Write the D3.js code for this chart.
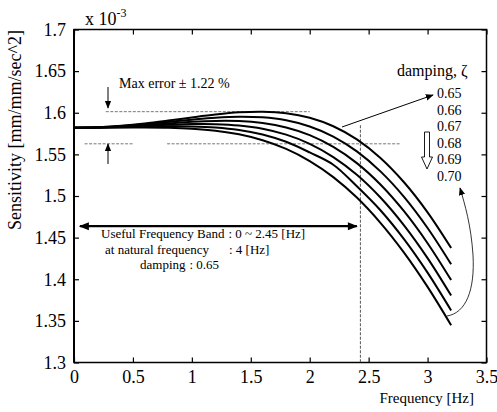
<!DOCTYPE html>
<html>
<head>
<meta charset="utf-8">
<script src="https://cdn.jsdelivr.net/npm/d3@7"></script>
<style>
  body { margin: 0; background: #fff; }
  svg text { font-family: "Liberation Serif", "Times New Roman", Times, serif !important; fill: #000; }
</style>
</head>
<body>
<div id="chart"></div>
<script>
// frequency points [Hz]
const freq = [0, 0.2, 0.4, 0.6, 0.8, 1.0, 1.2, 1.4, 1.6, 1.8, 2.0, 2.2, 2.4, 2.6, 2.8, 3.0, 3.2];

// sensitivity x 10^-3, one array per damping ratio
const sens065 = [1.5820, 1.5826, 1.5844, 1.5871, 1.5906, 1.5944, 1.5979, 1.6005, 1.6013, 1.5995, 1.5940, 1.5838, 1.5680, 1.5457, 1.5165, 1.4804, 1.4375];
const sens066 = [1.5820, 1.5825, 1.5840, 1.5862, 1.5889, 1.5917, 1.5941, 1.5953, 1.5945, 1.5909, 1.5835, 1.5714, 1.5536, 1.5296, 1.4990, 1.4616, 1.4180];
const sens067 = [1.5820, 1.5824, 1.5835, 1.5852, 1.5872, 1.5891, 1.5902, 1.5900, 1.5876, 1.5823, 1.5731, 1.5590, 1.5395, 1.5138, 1.4817, 1.4433, 1.3990];
const sens068 = [1.5820, 1.5823, 1.5831, 1.5843, 1.5855, 1.5864, 1.5863, 1.5847, 1.5808, 1.5737, 1.5627, 1.5468, 1.5255, 1.4982, 1.4648, 1.4254, 1.3804];
const sens069 = [1.5820, 1.5822, 1.5827, 1.5833, 1.5838, 1.5836, 1.5824, 1.5794, 1.5739, 1.5651, 1.5523, 1.5376, 1.5117, 1.4829, 1.4482, 1.4079, 1.3624];
const sens070 = [1.5820, 1.5821, 1.5822, 1.5823, 1.5820, 1.5809, 1.5785, 1.5741, 1.5670, 1.5566, 1.5420, 1.5227, 1.4981, 1.4678, 1.4320, 1.3908, 1.3447];

const dampingLabels = ["0.65", "0.66", "0.67", "0.68", "0.69", "0.70"];
const xTicks = [0, 0.5, 1, 1.5, 2, 2.5, 3, 3.5];
const yTicks = [1.3, 1.35, 1.4, 1.45, 1.5, 1.55, 1.6, 1.65, 1.7];

// reference values of the annotations
const baseSens = 1.582;
const maxError = 1.22;   // %
const bandLimit = 2.43;  // Hz, dashed vertical

const series = [sens065, sens066, sens067, sens068, sens069, sens070];

const W = 497, H = 412;
const svg = d3.select("#chart").append("svg")
  .attr("width", W).attr("height", H)
  .attr("font-family", "Liberation Serif, Times New Roman, serif");

const x = d3.scaleLinear().domain([0, 3.5]).range([74, 486.5]);
const y = d3.scaleLinear().domain([1.3, 1.7]).range([362.5, 29.5]);

// boite + ticks vers l'interieur
svg.append("rect")
  .attr("x", x(0)).attr("y", y(1.7))
  .attr("width", x(3.5) - x(0)).attr("height", y(1.3) - y(1.7))
  .attr("fill", "none").attr("stroke", "#000").attr("stroke-width", 1.5);

const fmt = d => String(d);

svg.append("g")
  .attr("transform", `translate(0,${y(1.3)})`)
  .call(d3.axisBottom(x).tickValues(xTicks).tickFormat(fmt).tickSize(-5).tickPadding(8));
svg.append("g")
  .attr("transform", `translate(0,${y(1.7)})`)
  .call(d3.axisTop(x).tickValues(xTicks).tickFormat("").tickSize(-5));
svg.append("g")
  .attr("transform", `translate(${x(0)},0)`)
  .call(d3.axisLeft(y).tickValues(yTicks).tickFormat(fmt).tickSize(-5).tickPadding(8));
svg.append("g")
  .attr("transform", `translate(${x(3.5)},0)`)
  .call(d3.axisRight(y).tickValues(yTicks).tickFormat("").tickSize(-5));

svg.selectAll(".domain").remove();
svg.selectAll("g").attr("font-family", null);
svg.selectAll(".tick line").attr("stroke", "#000").attr("stroke-width", 1.2);
svg.selectAll(".tick text")
  .style("font-size", "18px")
  .attr("fill", "#000");

// axe gauche plus epais
svg.append("line")
  .attr("x1", x(0)).attr("x2", x(0)).attr("y1", y(1.7)).attr("y2", y(1.3))
  .attr("stroke", "#000").attr("stroke-width", 2);

// x 10^-3
const expo = svg.append("text").attr("x", 85).attr("y", 25).style("font-size", "18px");
expo.append("tspan").text("x 10");
expo.append("tspan").attr("dy", -8).style("font-size", "12px").text("-3");

svg.append("text")
  .attr("transform", "translate(21,130) rotate(-90)")
  .attr("text-anchor", "middle")
  .style("font-size", "18px")
  .text("Sensitivity [mm/mm/sec^2]");

svg.append("text")
  .attr("x", 474).attr("y", 403)
  .attr("text-anchor", "end")
  .style("font-size", "15px")
  .text("Frequency [Hz]");

// markers
const defs = svg.append("defs");
defs.append("marker")
  .attr("id", "head").attr("viewBox", "0 0 10 10")
  .attr("refX", 9).attr("refY", 5)
  .attr("markerWidth", 8).attr("markerHeight", 8)
  .attr("markerUnits", "userSpaceOnUse")
  .attr("orient", "auto")
  .append("path").attr("d", "M0,1 L10,5 L0,9 Z").attr("fill", "#000");
defs.append("marker")
  .attr("id", "headBig").attr("viewBox", "0 0 10 10")
  .attr("refX", 9).attr("refY", 5)
  .attr("markerWidth", 12).attr("markerHeight", 10)
  .attr("markerUnits", "userSpaceOnUse")
  .attr("orient", "auto-start-reverse")
  .append("path").attr("d", "M0,1 L10,5 L0,9 Z").attr("fill", "#000");

// lignes de reference (erreur max)
const dash = "3,1.5";
const hiErr = baseSens * (1 + maxError / 100);
const loErr = baseSens * (1 - maxError / 100);
svg.append("line")
  .attr("x1", x(0.27)).attr("x2", x(2.0)).attr("y1", y(hiErr)).attr("y2", y(hiErr))
  .attr("stroke", "#555").attr("stroke-width", 0.8).attr("stroke-dasharray", dash);
[[0.09, 0.5], [0.79, 2.77]].forEach(s => {
  svg.append("line")
    .attr("x1", x(s[0])).attr("x2", x(s[1])).attr("y1", y(loErr)).attr("y2", y(loErr))
    .attr("stroke", "#555").attr("stroke-width", 0.8).attr("stroke-dasharray", dash);
});
svg.append("line")
  .attr("x1", x(bandLimit)).attr("x2", x(bandLimit)).attr("y1", y(1.585)).attr("y2", y(1.3))
  .attr("stroke", "#555").attr("stroke-width", 1).attr("stroke-dasharray", dash);

// courbes
const line = d3.line()
  .x((d, i) => x(freq[i]))
  .y(d => y(d))
  .curve(d3.curveCatmullRom);

svg.selectAll("path.curve")
  .data(series)
  .enter()
  .append("path")
  .attr("class", "curve")
  .attr("d", line)
  .attr("fill", "none")
  .attr("stroke", "#000")
  .attr("stroke-width", 2);

// fleches erreur max
svg.append("line").attr("x1", 108).attr("y1", 87).attr("x2", 108).attr("y2", 108)
  .attr("stroke", "#000").attr("stroke-width", 1).attr("marker-end", "url(#head)");
svg.append("line").attr("x1", 108).attr("y1", 164).attr("x2", 108).attr("y2", 144)
  .attr("stroke", "#000").attr("stroke-width", 1).attr("marker-end", "url(#head)");

svg.append("text").attr("x", 119).attr("y", 88).style("font-size", "14px")
  .text(`Max error  \u00b1 ${maxError} %`);

// bande utile
svg.append("line")
  .attr("x1", x(0.05)).attr("x2", x(2.4)).attr("y1", y(1.4637)).attr("y2", y(1.4637))
  .attr("stroke", "#000").attr("stroke-width", 2.2)
  .attr("marker-start", "url(#headBig)").attr("marker-end", "url(#headBig)");

const info = [
  { t: "Useful Frequency Band", x: 101, v: ": 0 ~ 2.45 [Hz]", vx: 227, y: 238 },
  { t: "at natural frequency", x: 105, v: ": 4 [Hz]", vx: 229, y: 254 },
  { t: "damping", x: 140, v: ": 0.65", vx: 189, y: 269 }
];
info.forEach(r => {
  const lab = svg.append("text").attr("x", r.x).attr("y", r.y).style("font-size", "13px").text(r.t);
  const end = r.x + lab.node().getComputedTextLength();
  svg.append("text").attr("x", Math.max(r.vx, end + 4)).attr("y", r.y).style("font-size", "13px").text(r.v);
});

// legende damping
svg.append("text").attr("x", 397).attr("y", 76).style("font-size", "16px").text("damping, \u03b6");
svg.selectAll("text.damp")
  .data(dampingLabels)
  .enter()
  .append("text")
  .attr("class", "damp")
  .attr("x", 437)
  .attr("y", (d, i) => 98 + i * 16.5)
  .style("font-size", "14px")
  .text(d => d);

svg.append("line").attr("x1", 342).attr("y1", 127).attr("x2", 433).attr("y2", 95)
  .attr("stroke", "#000").attr("stroke-width", 1).attr("marker-end", "url(#head)");

// fleche creuse vers le bas
svg.append("path")
  .attr("d", "M424.5,132 L429.5,132 L429.5,157 L432.5,157 L427,169 L421.5,157 L424.5,157 Z")
  .attr("fill", "#fff").attr("stroke", "#000").attr("stroke-width", 0.9);

// fleche courbe
svg.append("path")
  .attr("d", "M447,316 C466,313 475,290 473,255 C471,225 465,205 460,188")
  .attr("fill", "none").attr("stroke", "#000").attr("stroke-width", 0.8)
  .attr("marker-end", "url(#head)");
</script>
</body>
</html>
